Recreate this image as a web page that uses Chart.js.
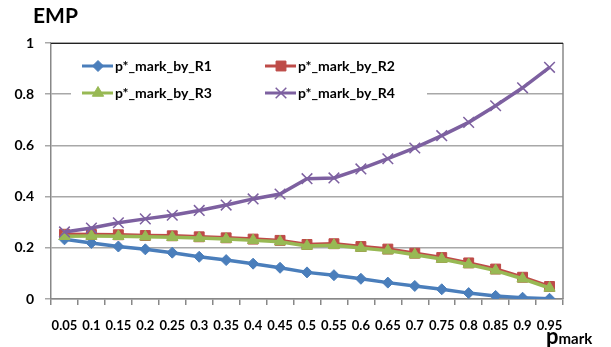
<!DOCTYPE html>
<html>
<head>
<meta charset="utf-8">
<script src="https://cdn.jsdelivr.net/npm/chart.js@4/dist/chart.umd.min.js"></script>
<style>
  body { margin: 0; background: #fff; }
  #wrap { position: relative; width: 611px; height: 347px; font-family: Lato, "Open Sans", sans-serif; font-weight: bold; }
  #empTitle { position: absolute; left: 33px; top: 2px; font-size: 21px; }
  #xTitle { position: absolute; left: 546px; top: 322px; white-space: nowrap; }
  #xTitle .p { font-size: 22px; }
  #xTitle .sub { font-size: 15px; }
</style>
</head>
<body>
<div id="wrap">
  <canvas id="empChart" width="611" height="347"></canvas>
  <div id="empTitle">EMP</div>
  <div id="xTitle"><span class="p">p</span><span class="sub">mark</span></div>
</div>
<script>
// p_mark values on the x axis
const pMarkLabels = ['0.05', '0.1', '0.15', '0.2', '0.25', '0.3', '0.35', '0.4', '0.45', '0.5',
  '0.55', '0.6', '0.65', '0.7', '0.75', '0.8', '0.85', '0.9', '0.95'];

// EMP, one array per series
const empR1 = [0.233, 0.219, 0.205, 0.194, 0.181, 0.165, 0.152, 0.138, 0.122, 0.104,
  0.093, 0.079, 0.064, 0.051, 0.038, 0.023, 0.012, 0.005, 0.001];
const empR2 = [0.253, 0.252, 0.251, 0.248, 0.247, 0.243, 0.239, 0.234, 0.229, 0.213,
  0.216, 0.205, 0.195, 0.179, 0.162, 0.141, 0.117, 0.085, 0.049];
const empR3 = [0.245, 0.246, 0.245, 0.243, 0.241, 0.238, 0.234, 0.229, 0.224, 0.207,
  0.21, 0.199, 0.189, 0.173, 0.156, 0.135, 0.111, 0.079, 0.043];
const empR4 = [0.262, 0.277, 0.298, 0.313, 0.327, 0.346, 0.367, 0.391, 0.41, 0.47,
  0.473, 0.508, 0.548, 0.59, 0.638, 0.69, 0.755, 0.825, 0.905];

const seriesNames = ['p*_mark_by_R1', 'p*_mark_by_R2', 'p*_mark_by_R3', 'p*_mark_by_R4'];

const FONT = 'Lato, "Open Sans", sans-serif';

// order: later series are drawn on top, like in Excel
function makeSeries(label, data, color, style, radius, bw, order) {
  return {
    label: label,
    data: data,
    order: order,
    borderColor: color,
    backgroundColor: color,
    borderWidth: 3.5,
    pointStyle: style,
    pointRadius: radius,
    pointBorderWidth: bw,
    pointBackgroundColor: color,
    pointBorderColor: color,
    tension: 0
  };
}

const datasets = [
  makeSeries(seriesNames[0], empR1, '#4a7ebb', 'rectRot', 5.5, 1, 4),
  makeSeries(seriesNames[1], empR2, '#be4b48', 'rect', 7, 1, 3),
  makeSeries(seriesNames[2], empR3, '#98b954', 'triangle', 6.5, 1, 2),
  makeSeries(seriesNames[3], empR4, '#7d60a0', 'crossRot', 7.5, 1.5, 1)
];

// Excel-like legend box inside the plot area (2 x 2)
const boxLegend = {
  id: 'boxLegend',
  afterDatasetsDraw(chart) {
    const ctx = chart.ctx;
    const a = chart.chartArea;
    ctx.save();
    ctx.fillStyle = '#fff';
    ctx.fillRect(a.left + 20, a.top + 8, 356, 56);
    const cols = [a.left + 31, a.left + 214];
    const rows = [a.top + 23, a.top + 50];
    chart.data.datasets.forEach((ds, i) => {
      const x = cols[i % 2];
      const y = rows[Math.floor(i / 2)];
      ctx.strokeStyle = ds.borderColor;
      ctx.lineWidth = 3;
      ctx.beginPath();
      ctx.moveTo(x, y);
      ctx.lineTo(x + 31, y);
      ctx.stroke();
      ctx.fillStyle = ds.pointBackgroundColor;
      ctx.lineWidth = ds.pointBorderWidth;
      Chart.helpers.drawPoint(ctx, {
        pointStyle: ds.pointStyle,
        radius: ds.pointRadius,
        borderWidth: ds.pointBorderWidth,
        rotation: 0
      }, x + 16, y);
      ctx.fillStyle = '#000';
      ctx.font = 'bold 14px ' + FONT;
      ctx.textBaseline = 'middle';
      ctx.textAlign = 'left';
      ctx.fillText(ds.label, x + 33, y);
    });
    ctx.restore();
  }
};

// plot area frame: dark top, grey right edge
const plotFrame = {
  id: 'plotFrame',
  beforeDatasetsDraw(chart) {
    const ctx = chart.ctx;
    const a = chart.chartArea;
    ctx.save();
    ctx.strokeStyle = '#888';
    ctx.lineWidth = 1.5;
    ctx.beginPath();
    ctx.moveTo(a.right, a.top);
    ctx.lineTo(a.right, a.bottom);
    ctx.stroke();
    ctx.strokeStyle = '#222';
    ctx.lineWidth = 1;
    ctx.beginPath();
    ctx.moveTo(a.left, a.top + 0.5);
    ctx.lineTo(a.right, a.top + 0.5);
    ctx.stroke();
    ctx.restore();
  }
};

new Chart(document.getElementById('empChart'), {
  type: 'line',
  data: {
    labels: pMarkLabels,
    datasets: datasets
  },
  options: {
    responsive: false,
    animation: false,
    layout: {
      padding: { left: 0, right: 48, top: 43, bottom: 0 }
    },
    plugins: {
      legend: { display: false },
      tooltip: { enabled: false }
    },
    scales: {
      x: {
        type: 'category',
        offset: true,
        afterFit(scale) { scale.height = 48; },
        grid: {
          offset: true,
          drawOnChartArea: false,
          tickLength: 6,
          color: '#888',
          lineWidth: 1.5
        },
        border: { color: '#888', width: 1.5 },
        ticks: {
          autoSkip: false,
          maxRotation: 0,
          padding: 13,
          color: '#000',
          font: { family: FONT, size: 13, weight: 'bold' }
        }
      },
      y: {
        min: 0,
        max: 1,
        afterFit(scale) { scale.width = 51; },
        grid: {
          color: '#a8a8a8',
          lineWidth: 1.5,
          tickLength: 6
        },
        border: { color: '#888', width: 1.5 },
        ticks: {
          stepSize: 0.2,
          padding: 11,
          color: '#000',
          font: { family: FONT, size: 14, weight: 'bold' },
          callback: (v) => String(Number(v.toFixed(1)))
        }
      }
    }
  },
  plugins: [plotFrame, boxLegend]
});
</script>
</body>
</html>
